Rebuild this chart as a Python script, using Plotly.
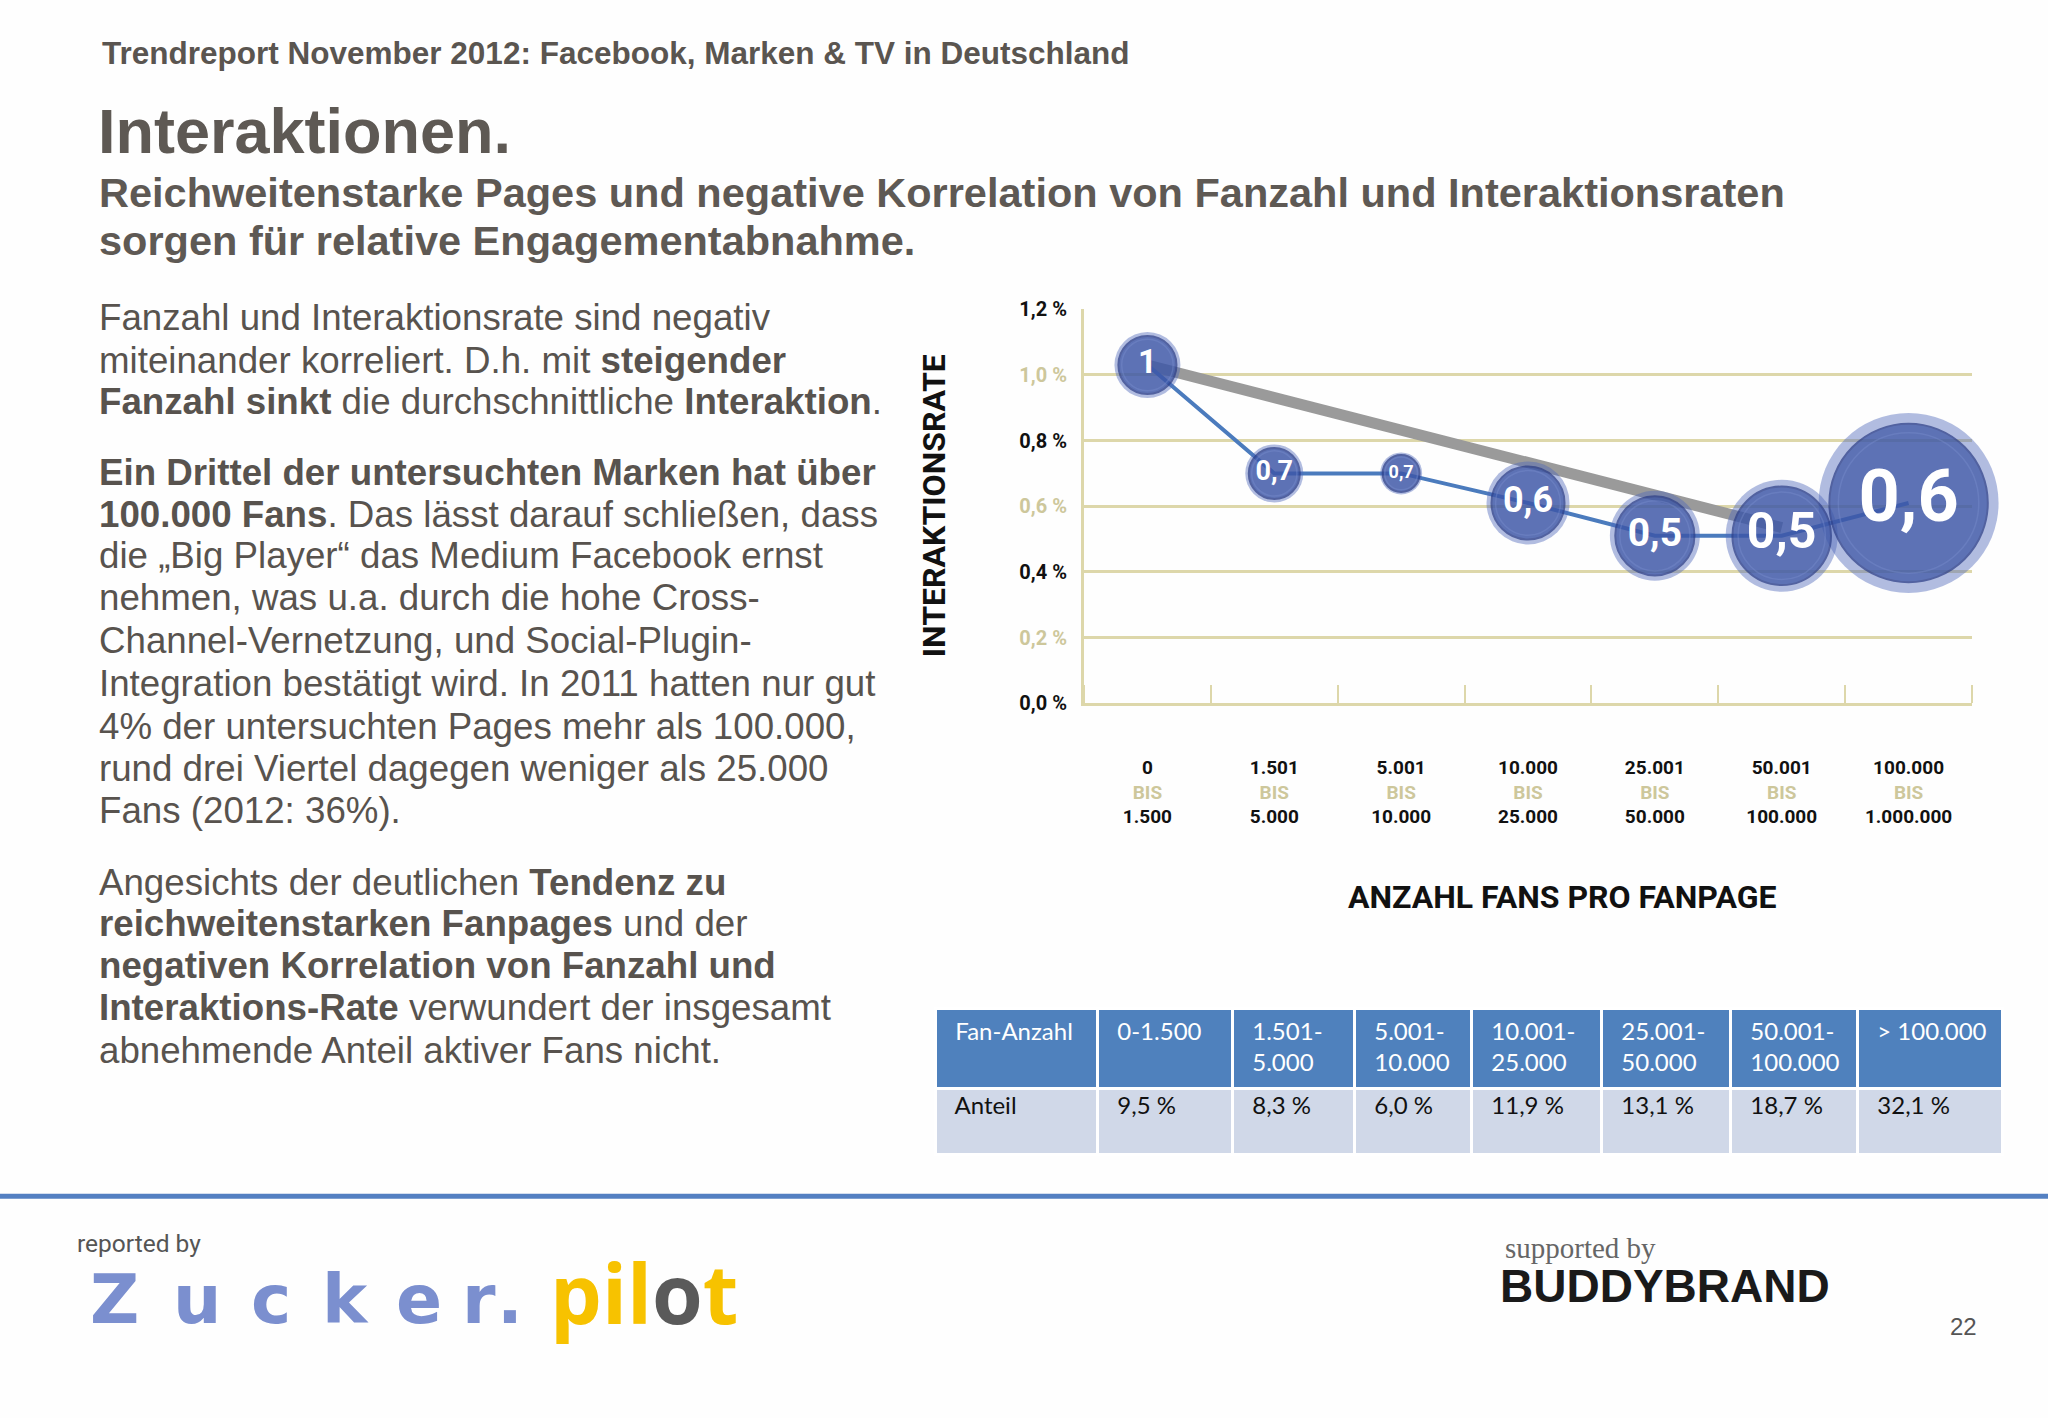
import plotly.graph_objects as go

# ---------------- data ----------------
cat_from = ["0", "1.501", "5.001", "10.000", "25.001", "50.001", "100.000"]
cat_to = ["1.500", "5.000", "10.000", "25.000", "50.000", "100.000", "1.000.000"]
rate = [1.03, 0.70, 0.70, 0.61, 0.51, 0.51, 0.61]
rate_labels = ["1", "0,7", "0,7", "0,6", "0,5", "0,5", "0,6"]
trend_x = [0, 5]
trend_y = [1.03, 0.535]
y_ticks = [0.0, 0.2, 0.4, 0.6, 0.8, 1.0, 1.2]
y_ticklabels = ["0,0 %", "0,2 %", "0,4 %", "0,6 %", "0,8 %", "1,0 %", "1,2 %"]

table_header = ["Fan-Anzahl", "0-1.500", "1.501-<br>5.000", "5.001-<br>10.000",
                "10.001-<br>25.000", "25.001-<br>50.000", "50.001-<br>100.000", "> 100.000"]
table_row = ["Anteil", "9,5 %", "8,3 %", "6,0 %", "11,9 %", "13,1 %", "18,7 %", "32,1 %"]

# ---------------- style ----------------
W, H = 2048, 1418
Y_OFF, Y_SCALE = 11.8, 0.983   # compensation for the vertical mapping observed in the photos
def X(px): return px / W
def Y(py): return 1 - ((py - Y_OFF) / Y_SCALE) / H

COND = "Roboto, Liberation Sans, sans-serif"
ARIAL = "Liberation Sans, Arial, sans-serif"
TXT = "#58534e"
BEIGE = "#ddd7aa"
BEIGE_TXT = "#cdc79b"
bubble_diam = [66, 58, 42, 83, 90, 112, 180]
label_size = [33, 27, 18, 36, 39, 50, 72]
table_colw = [162, 135, 122, 117, 130, 129, 127, 145]

fig = go.Figure()
xs = list(range(len(rate)))

# trend line
fig.add_trace(go.Scatter(x=trend_x, y=trend_y, mode="lines",
                         line=dict(color="#9a9a9a", width=11), hoverinfo="skip",
                         cliponaxis=False))
# connecting line
fig.add_trace(go.Scatter(x=xs, y=rate, mode="lines",
                         line=dict(color="#4b7bbd", width=4), hoverinfo="skip",
                         cliponaxis=False))
# bubbles: glow, body, rim highlight
fig.add_trace(go.Scatter(x=xs, y=rate, mode="markers", hoverinfo="skip", cliponaxis=False,
                         marker=dict(size=bubble_diam, color="rgba(78,104,185,0.62)",
                                     line=dict(width=0))))
fig.add_trace(go.Scatter(x=xs, y=rate, mode="markers", hoverinfo="skip", cliponaxis=False,
                         marker=dict(size=[d * 0.88 for d in bubble_diam], color="#3a54a4",
                                     line=dict(width=2, color="#2a3c86"))))
fig.add_trace(go.Scatter(x=xs, y=rate, mode="markers", hoverinfo="skip", cliponaxis=False,
                         marker=dict(size=[d * 0.78 for d in bubble_diam], symbol="circle-open",
                                     color="rgba(125,145,210,0.5)", line=dict(width=1.5))))
# labels
fig.add_trace(go.Scatter(x=xs, y=rate, mode="text", text=rate_labels, hoverinfo="skip",
                         cliponaxis=False, textposition="middle center",
                         textfont=dict(family=COND, size=label_size, color="white", weight="bold")))

ticktext_x = [f"{a}<br><span style='color:{BEIGE_TXT}'>BIS</span><br>{b}" for a, b in zip(cat_from, cat_to)]
ticktext_y = [f"<span style='color:{BEIGE_TXT if i % 2 else '#111111'}'>{t}</span>"
              for i, t in enumerate(y_ticklabels)]

fig.update_layout(
    width=W, height=H, margin=dict(l=0, r=0, t=0, b=0),
    paper_bgcolor="#fefefe", plot_bgcolor="#fefefe", showlegend=False,
    xaxis=dict(domain=[X(1084), X(1972)], range=[-0.5, 6.5], tickmode="array",
               tickvals=xs, ticktext=ticktext_x, ticks="", showgrid=False, zeroline=False,
               showline=True, linecolor=BEIGE, linewidth=3, ticklabelstandoff=45,
               tickfont=dict(family=COND, size=19, color="#111111", weight="bold"),
               minor=dict(tick0=0.5, dtick=1, ticks="inside", ticklen=18, tickwidth=2,
                          tickcolor=BEIGE, showgrid=False),
               fixedrange=True),
    yaxis=dict(domain=[Y(703), Y(309)], range=[0, 1.2], tickmode="array",
               tickvals=y_ticks, ticktext=ticktext_y, showgrid=True, gridcolor=BEIGE,
               gridwidth=3, zeroline=False, showline=True, linecolor=BEIGE, linewidth=3,
               ticks="", ticklabelstandoff=10,
               tickfont=dict(family=COND, size=20, color="#111111", weight="bold"),
               fixedrange=True),
)

# table
def pad(v):
    if "<br>" not in v:
        v = v + "<br>"
    return "\u00a0\u00a0" + v.replace("<br>", "<br>\u00a0\u00a0")

fig.add_trace(go.Table(
    domain=dict(x=[X(935), X(2002)], y=[Y(1158), Y(1008)]),
    columnwidth=table_colw,
    header=dict(values=[pad(v) for v in table_header],
                fill_color="#4f81bd", line=dict(color="white", width=3), align="left",
                height=80, font=dict(family="Lato, Open Sans, sans-serif", size=24, color="white")),
    cells=dict(values=[["\u00a0\u00a0" + v] for v in table_row],
               fill_color="#d0d8e8", line=dict(color="white", width=3), align="left",
               height=66, font=dict(family="Lato, Open Sans, sans-serif", size=24, color="#111111")),
))

ann = []
def text(px, py, s, size, color=TXT, family=ARIAL, xanchor="left", **kw):
    ann.append(dict(x=X(px), y=Y(py), xref="paper", yref="paper", text=s, showarrow=False,
                    xanchor=xanchor, yanchor="middle", align="left",
                    font=dict(size=size, color=color, family=family), **kw))

text(100, 53, "<b>Trendreport November 2012: Facebook, Marken &amp; TV in Deutschland</b>", 31.5, "#5a5550")
text(96, 131, "<b>Interaktionen.</b>", 63, "#5e5954")
text(97, 192, "<b>Reichweitenstarke Pages und negative Korrelation von Fanzahl und Interaktionsraten</b>", 41.5, "#5e5954")
text(97, 240, "<b>sorgen für relative Engagementabnahme.</b>", 41.5, "#5e5954")

body_lines = [
    (317, "Fanzahl und Interaktionsrate sind negativ"),
    (360, "miteinander korreliert. D.h. mit <b>steigender</b>"),
    (401, "<b>Fanzahl sinkt</b> die durchschnittliche <b>Interaktion</b>."),
    (472, "<b>Ein Drittel der untersuchten Marken hat über</b>"),
    (514, "<b>100.000 Fans</b>. Das lässt darauf schließen, dass"),
    (555, "die „Big Player“ das Medium Facebook ernst"),
    (597, "nehmen, was u.a. durch die hohe Cross-"),
    (640, "Channel-Vernetzung, und Social-Plugin-"),
    (683, "Integration bestätigt wird. In 2011 hatten nur gut"),
    (726, "4% der untersuchten Pages mehr als 100.000,"),
    (768, "rund drei Viertel dagegen weniger als 25.000"),
    (810, "Fans (2012: 36%)."),
    (882, "Angesichts der deutlichen <b>Tendenz zu</b>"),
    (923, "<b>reichweitenstarken Fanpages</b> und der"),
    (965, "<b>negativen Korrelation von Fanzahl und</b>"),
    (1007, "<b>Interaktions-Rate</b> verwundert der insgesamt"),
    (1050, "abnehmende Anteil aktiver Fans nicht."),
]
for py, s in body_lines:
    text(97, py, s, 36.7)

# axis titles
text(934, 506, "<b>INTERAKTIONSRATE</b>", 32, "#111111", COND, xanchor="center", textangle=-90)
text(1562, 897, "<b>ANZAHL FANS PRO FANPAGE</b>", 32, "#111111", COND, xanchor="center")

# footer
text(75, 1243, "reported by", 24.5, "#555555", COND)
zucker_letters = [("Z", 114), ("u", 197), ("c", 271), ("k", 345), ("e", 419), ("r", 479), (".", 510)]
for ch, cx in zucker_letters:
    text(cx, 1299, f"<b>{ch}</b>", 68, "#7b8fcf", "DejaVu Sans", xanchor="center")
text(548, 1292, "<b>pil<span style='color:#5a5a5a'>o</span>t</b>", 82, "#f7c200", "Open Sans")
text(1503, 1248, "supported by", 29, "#666666", "Liberation Serif, serif")
text(1498, 1286, "<b>BUDDYBRAND</b>", 46, "#1a1a1a", ARIAL)
text(1963, 1326, "22", 24, "#555555", ARIAL, xanchor="center")

fig.update_layout(annotations=ann)
fig.add_shape(type="line", xref="paper", yref="paper", x0=0, x1=1, y0=Y(1196), y1=Y(1196),
              line=dict(color="#5480c2", width=5))

post = (
    "document.documentElement.style.margin='0';document.documentElement.style.padding='0';"
    "document.documentElement.style.overflow='hidden';"
    "document.body.style.margin='0';document.body.style.padding='0';"
    "document.body.style.overflow='hidden';"
)
fig.write_html("out.html", config={"displayModeBar": False}, post_script=post)
